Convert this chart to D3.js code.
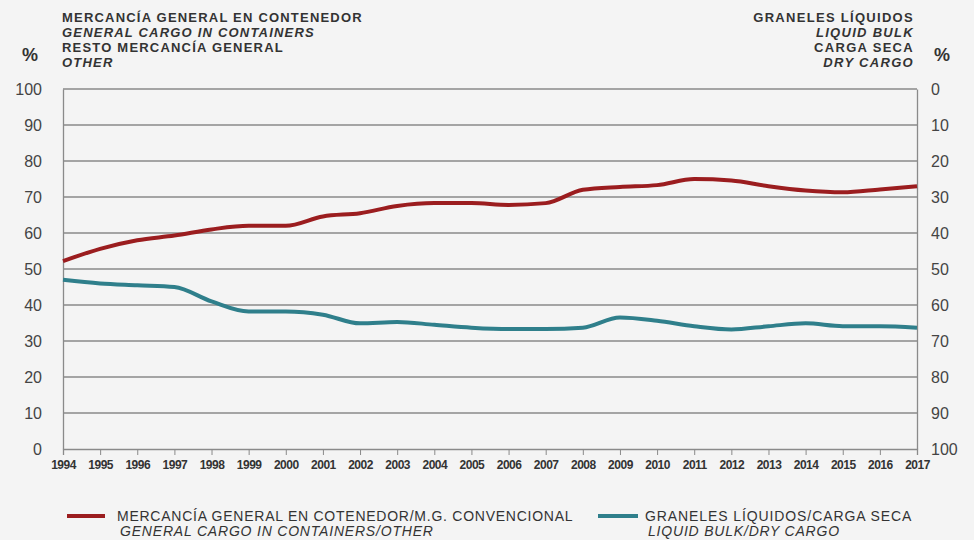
<!DOCTYPE html>
<html>
<head>
<meta charset="utf-8">
<script src="https://cdn.jsdelivr.net/npm/d3@7"></script>
<style>
  body { margin: 0; background: #f4f4f4; }
  svg { display: block; font-family: "Liberation Sans", Arial, sans-serif; }
</style>
</head>
<body>
<div id="chart"></div>
<script>
// data
const years = d3.range(1994, 2018)
const generalCargo = [52.2, 55.6, 58, 59.3, 61, 62, 62, 64.6, 65.5, 67.5, 68.3, 68.3, 67.8, 68.3, 72, 72.8, 73.3, 75, 74.6, 73, 71.8, 71.3, 72.1, 73]
const bulk = [47, 46, 45.5, 45, 41, 38.2, 38.2, 37.3, 34.9, 35.3, 34.5, 33.7, 33.3, 33.3, 33.7, 36.5, 35.6, 34.1, 33.2, 34.1, 34.9, 34.1, 34.1, 33.7]
const leftTicks = d3.range(0, 101, 10)
const rightTicks = d3.range(0, 101, 10)
const leftHeader = [["MERCANCÍA GENERAL EN CONTENEDOR", false], ["GENERAL CARGO IN CONTAINERS", true], ["RESTO MERCANCÍA GENERAL", false], ["OTHER", true]]
const rightHeader = [["GRANELES LÍQUIDOS", false], ["LIQUID BULK", true], ["CARGA SECA", false], ["DRY CARGO", true]]
const legendItems = [
  {es: "MERCANCÍA GENERAL EN COTENEDOR/M.G. CONVENCIONAL", en: "GENERAL CARGO IN CONTAINERS/OTHER", color: "#9b1d1f"},
  {es: "GRANELES LÍQUIDOS/CARGA SECA", en: "LIQUID BULK/DRY CARGO", color: "#2f7f8b"}
]

const W = 974, H = 540
const margin = {top: 89, right: 57, bottom: 91, left: 63}
const width = W - margin.left - margin.right
const height = H - margin.top - margin.bottom

const svg = d3.select("#chart").append("svg")
  .attr("width", W).attr("height", H)
svg.append("rect").attr("width", W).attr("height", H).attr("fill", "#f4f4f4")

const g = svg.append("g").attr("transform", "translate(" + margin.left + "," + margin.top + ")")

const x = d3.scaleLinear().domain([1994, 2017]).range([0, width])
const y = d3.scaleLinear().domain([0, 100]).range([height, 0])
const yR = d3.scaleLinear().domain([0, 100]).range([0, height])

// gridlines
g.selectAll(".grid").data(leftTicks.filter(d => d > 0)).enter().append("line")
  .attr("x1", 0).attr("x2", width)
  .attr("y1", d => y(d)).attr("y2", d => y(d))
  .attr("stroke", "#8a8a8a").attr("stroke-width", 1.3)

// left axis
const la = g.append("g").call(d3.axisLeft(y).tickValues(leftTicks).tickSize(0).tickPadding(21))
la.select(".domain").attr("stroke", "#8a8a8a").attr("stroke-width", 1.3)
la.selectAll("text").attr("font-size", 16).attr("fill", "#444")

// right axis
const ra = g.append("g").attr("transform", "translate(" + width + ",0)")
  .call(d3.axisRight(yR).tickValues(rightTicks).tickSize(0).tickPadding(14))
ra.select(".domain").attr("stroke", "#8a8a8a").attr("stroke-width", 1.3)
ra.selectAll("text").attr("font-size", 16).attr("fill", "#444")

// bottom axis
const ba = g.append("g").attr("transform", "translate(0," + height + ")")
  .call(d3.axisBottom(x).tickValues(years).tickFormat(d3.format("d")).tickSize(6).tickPadding(5))
ba.select(".domain").attr("stroke", "#8a8a8a").attr("stroke-width", 1.3)
ba.selectAll(".tick line").attr("stroke", "#8a8a8a")
ba.selectAll("text").attr("font-size", 12).attr("font-weight", "bold").attr("fill", "#333")
  .attr("letter-spacing", -0.5)

// lines
const line = d3.line().x((d, i) => x(years[i])).y(d => y(d)).curve(d3.curveMonotoneX)
g.append("path").datum(generalCargo).attr("d", line)
  .attr("fill", "none").attr("stroke", legendItems[0].color).attr("stroke-width", 4)
g.append("path").datum(bulk).attr("d", line)
  .attr("fill", "none").attr("stroke", legendItems[1].color).attr("stroke-width", 4)

// headers
svg.selectAll(".lh").data(leftHeader).enter().append("text")
  .attr("x", 62).attr("y", (d, i) => 22 + i * 15)
  .attr("font-size", 13).attr("font-weight", "bold").attr("letter-spacing", 1.2)
  .attr("font-style", d => d[1] ? "italic" : "normal")
  .attr("fill", "#333").text(d => d[0])
svg.selectAll(".rh").data(rightHeader).enter().append("text")
  .attr("x", 914).attr("y", (d, i) => 22 + i * 15).attr("text-anchor", "end")
  .attr("font-size", 13).attr("font-weight", "bold").attr("letter-spacing", 1.3)
  .attr("font-style", d => d[1] ? "italic" : "normal")
  .attr("fill", "#333").text(d => d[0])
svg.append("text").attr("x", 30).attr("y", 61).attr("text-anchor", "middle")
  .attr("font-size", 18).attr("font-weight", "bold").attr("fill", "#333").text("%")
svg.append("text").attr("x", 942).attr("y", 61).attr("text-anchor", "middle")
  .attr("font-size", 18).attr("font-weight", "bold").attr("fill", "#333").text("%")

// legend
const legendX = [67, 598]
legendItems.forEach((d, i) => {
  const lg = svg.append("g").attr("transform", "translate(" + legendX[i] + ",516)")
  lg.append("line").attr("x1", 0).attr("x2", i === 0 ? 38 : 40).attr("y1", 0).attr("y2", 0)
    .attr("stroke", d.color).attr("stroke-width", 4)
  lg.append("text").attr("x", i === 0 ? 50 : 47).attr("y", 5).attr("font-size", 14)
    .attr("letter-spacing", i === 0 ? 0.75 : 0.9).attr("fill", "#333").text(d.es)
  lg.append("text").attr("x", i === 0 ? 53 : 50).attr("y", 20).attr("font-size", 14).attr("font-style", "italic")
    .attr("letter-spacing", 0.8).attr("fill", "#333").text(d.en)
})
</script>
</body>
</html>
